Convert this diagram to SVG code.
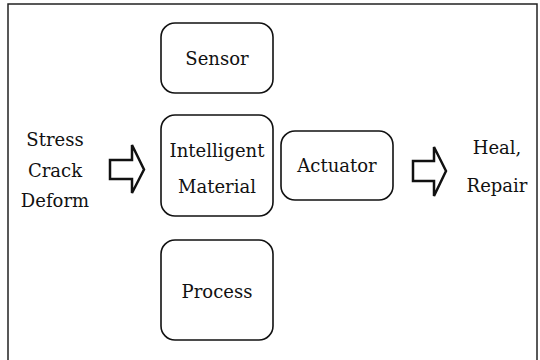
<svg xmlns="http://www.w3.org/2000/svg" width="540" height="360" viewBox="0 0 540 360">
  <style>
    .frame { fill: none; stroke: #222; stroke-width: 1.5; }
    .box { fill: #fff; stroke: #111; stroke-width: 1.6; }
    .arrow { fill: #fff; stroke: #111; stroke-width: 2.5; stroke-linejoin: miter; }
    text { font-family: "DejaVu Serif", "Liberation Serif", serif; font-size: 18px; fill: #111; text-anchor: middle; }
  </style>
  <rect width="540" height="360" fill="#fff"/>
  <rect class="frame" x="8" y="4" width="529" height="370"/>

  <g id="input-labels">
    <text x="55" y="146">Stress</text>
    <text x="55" y="177">Crack</text>
    <text x="55" y="207">Deform</text>
  </g>

  <g id="sensor">
    <rect class="box" x="161" y="23" width="112" height="70" rx="14"/>
    <text x="217" y="65">Sensor</text>
  </g>

  <g id="intelligent-material">
    <rect class="box" x="161" y="115" width="112" height="101" rx="14"/>
    <text x="217" y="157">Intelligent</text>
    <text x="217" y="193">Material</text>
  </g>

  <g id="actuator">
    <rect class="box" x="281" y="131" width="112" height="69" rx="14"/>
    <text x="337" y="172">Actuator</text>
  </g>

  <g id="process">
    <rect class="box" x="161" y="240" width="112" height="100" rx="14"/>
    <text x="217" y="298">Process</text>
  </g>

  <g id="output-labels">
    <text x="497" y="154">Heal,</text>
    <text x="497" y="192">Repair</text>
  </g>

  <g id="connectors">
    <path class="arrow" d="M110,160 H132 V145 L144,169.5 L132,193 V179 H110 Z"/>
    <path class="arrow" d="M413,161 H434 V147 L446,171 L434,196 V181 H413 Z"/>
  </g>
</svg>
